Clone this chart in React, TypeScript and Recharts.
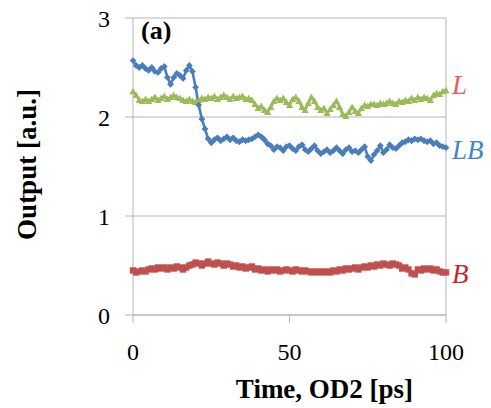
import React from "react";
import {
  LineChart,
  Line,
  XAxis,
  YAxis,
  CartesianGrid,
  ReferenceLine,
  Label,
  LabelList,
} from "recharts";

const times: number[] = Array.from({ length: 101 }, (_, i) => i);

const lbValues: number[] = [
  2.57, 2.52, 2.5, 2.52, 2.49, 2.47, 2.5, 2.46, 2.45, 2.49,
  2.51, 2.4, 2.33, 2.4, 2.44, 2.42, 2.39, 2.47, 2.52, 2.46,
  2.3, 2.12, 1.98, 1.88, 1.78, 1.74, 1.77, 1.79, 1.76, 1.78,
  1.8, 1.77, 1.79, 1.76, 1.75, 1.77, 1.76, 1.77, 1.78, 1.8,
  1.82, 1.8, 1.77, 1.73, 1.71, 1.67, 1.7, 1.69, 1.66, 1.7,
  1.71, 1.68, 1.66, 1.7, 1.72, 1.67, 1.65, 1.68, 1.71, 1.66,
  1.63, 1.65, 1.67, 1.64, 1.66, 1.69, 1.66, 1.63, 1.67, 1.69,
  1.65, 1.66, 1.64, 1.67, 1.7, 1.6, 1.56, 1.62, 1.66, 1.71,
  1.64, 1.67, 1.72, 1.69, 1.68, 1.71, 1.74, 1.75, 1.77, 1.76,
  1.78, 1.77, 1.78, 1.76, 1.75, 1.76, 1.73, 1.74, 1.71, 1.7,
  1.69,
];

const lValues: number[] = [
  2.26, 2.22, 2.17, 2.16, 2.18, 2.16, 2.18, 2.2, 2.17, 2.19,
  2.21, 2.18, 2.2, 2.22, 2.2, 2.19, 2.17, 2.16, 2.18, 2.16,
  2.15, 2.17, 2.19, 2.18, 2.2, 2.19, 2.21, 2.18, 2.2, 2.22,
  2.2, 2.18, 2.21, 2.19, 2.2, 2.21, 2.18, 2.19, 2.17, 2.13,
  2.09, 2.11, 2.07, 2.05, 2.1, 2.16, 2.19, 2.17, 2.19, 2.15,
  2.12, 2.18, 2.2, 2.16, 2.1, 2.07, 2.14, 2.2, 2.16, 2.1,
  2.07, 2.09, 2.04, 2.08, 2.12, 2.16, 2.1, 2.03, 2.01, 2.05,
  2.1, 2.06, 2.04, 2.09, 2.12, 2.11, 2.13, 2.13, 2.12, 2.14,
  2.13, 2.14, 2.16, 2.14, 2.13, 2.16, 2.15, 2.17, 2.16, 2.19,
  2.17, 2.2, 2.18, 2.2, 2.19, 2.17, 2.22, 2.24, 2.23, 2.26,
  2.27,
];

const bValues: number[] = [
  0.45, 0.43, 0.44, 0.45, 0.44, 0.46, 0.47, 0.46, 0.48, 0.47,
  0.48, 0.46, 0.48, 0.47, 0.49, 0.48, 0.46, 0.48, 0.5, 0.51,
  0.53, 0.52, 0.5, 0.52, 0.54, 0.52, 0.51, 0.53, 0.52, 0.5,
  0.52, 0.51, 0.49, 0.5, 0.48, 0.49, 0.47, 0.48, 0.49, 0.46,
  0.47, 0.45, 0.46, 0.44, 0.46, 0.45, 0.46, 0.44, 0.45, 0.46,
  0.45, 0.44, 0.46, 0.45, 0.44, 0.45, 0.44, 0.43, 0.44, 0.43,
  0.44, 0.43, 0.44, 0.43, 0.45, 0.44, 0.46, 0.45, 0.47, 0.46,
  0.47, 0.48, 0.46, 0.48, 0.49, 0.48, 0.5, 0.49, 0.51, 0.5,
  0.52, 0.51, 0.5, 0.52, 0.51, 0.5, 0.47, 0.48, 0.46, 0.42,
  0.41, 0.46, 0.45, 0.47, 0.46, 0.47, 0.45, 0.46, 0.44, 0.43,
  0.43,
];

const xTicks: number[] = [0, 50, 100];
const yTicks: number[] = [0, 1, 2, 3];

const data = times.map((t, i) => ({
  t,
  LB: lbValues[i],
  L: lValues[i],
  B: bValues[i],
}));

const SERIF = "'Liberation Serif', 'Times New Roman', serif";
const GRID = "#b5b5b5";

const BLUE = "#4a7ebb";
const GREEN = "#9bbb59";
const RED = "#c0504d";

const Diamond = (props: any) => {
  const { cx, cy, index } = props;
  if (cx == null || cy == null) return <g key={`d${index}`} />;
  const s = 3.4;
  return (
    <polygon
      key={`d${index}`}
      points={`${cx},${cy - s} ${cx + s},${cy} ${cx},${cy + s} ${cx - s},${cy}`}
      fill={BLUE}
    />
  );
};

const Triangle = (props: any) => {
  const { cx, cy, index } = props;
  if (cx == null || cy == null) return <g key={`t${index}`} />;
  const s = 3.6;
  return (
    <polygon
      key={`t${index}`}
      points={`${cx},${cy - s} ${cx + s},${cy + s * 0.8} ${cx - s},${cy + s * 0.8}`}
      fill={GREEN}
    />
  );
};

const Square = (props: any) => {
  const { cx, cy, index } = props;
  if (cx == null || cy == null) return <g key={`s${index}`} />;
  const s = 3.2;
  return (
    <rect key={`s${index}`} x={cx - s} y={cy - s} width={s * 2} height={s * 2} fill={RED} />
  );
};

const endLabel = (text: string, color: string, dy: number) => (props: any) => {
  const { x, y, index } = props;
  if (index !== data.length - 1) return null;
  return (
    <text
      x={Number(x) + 6}
      y={Number(y) + dy}
      fill={color}
      fontFamily={SERIF}
      fontStyle="italic"
      fontSize={27}
    >
      {text}
    </text>
  );
};

const yLabel = (props: any) => {
  const vb = props.viewBox || {};
  const cx = (vb.x ?? 0) + 27;
  const cy = (vb.y ?? 0) + (vb.height ?? 0) / 2 - 2;
  return (
    <text
      x={cx}
      y={cy}
      transform={`rotate(-90, ${cx}, ${cy})`}
      textAnchor="middle"
      dominantBaseline="central"
      fontFamily={SERIF}
      fontWeight="bold"
      fontSize={27}
      fill="#000"
    >
      Output [a.u.]
    </text>
  );
};

const xLabel = (props: any) => {
  const vb = props.viewBox || {};
  const cx = (vb.x ?? 0) + (vb.width ?? 0) / 2 + 35;
  const by = (vb.y ?? 0) + (vb.height ?? 0) - 10;
  return (
    <text
      x={cx}
      y={by}
      textAnchor="middle"
      fontFamily={SERIF}
      fontWeight="bold"
      fontSize={27}
      fill="#000"
    >
      Time, OD2 [ps]
    </text>
  );
};

export default function App() {
  return (
    <div style={{ position: "absolute", left: 0, top: 0, width: 491, height: 408, background: "#fff" }}>
      <LineChart
        width={491}
        height={408}
        data={data}
        margin={{ top: 18, right: 45, left: 0, bottom: 0 }}
      >
        <CartesianGrid vertical={false} stroke={GRID} strokeWidth={1} />
        <XAxis
          dataKey="t"
          type="number"
          domain={[0, 100]}
          ticks={xTicks}
          height={93}
          tickSize={8}
          tickMargin={20}
          stroke={GRID}
          tick={{ fill: "#000", fontFamily: SERIF, fontSize: 24 }}
          tickLine={{ stroke: GRID }}
          axisLine={{ stroke: GRID }}
        >
          <Label content={xLabel} />
        </XAxis>
        <YAxis
          type="number"
          domain={[0, 3]}
          ticks={yTicks}
          width={133}
          tickSize={8}
          tickMargin={15}
          stroke={GRID}
          tick={{ fill: "#000", fontFamily: SERIF, fontSize: 24 }}
          tickLine={{ stroke: GRID }}
          axisLine={{ stroke: GRID }}
        >
          <Label content={yLabel} />
        </YAxis>
        <ReferenceLine x={100} stroke={GRID} strokeWidth={1} />
        <Line
          dataKey="B"
          stroke={RED}
          strokeWidth={3.5}
          dot={Square}
          activeDot={false}
          isAnimationActive={false}
        >
          <LabelList dataKey="B" content={endLabel("B", "#c0282d", 11)} />
        </Line>
        <Line
          dataKey="L"
          stroke={GREEN}
          strokeWidth={2.8}
          dot={Triangle}
          activeDot={false}
          isAnimationActive={false}
        >
          <LabelList dataKey="L" content={endLabel("L", "#e85a60", 4)} />
        </Line>
        <Line
          dataKey="LB"
          stroke={BLUE}
          strokeWidth={2.6}
          dot={Diamond}
          activeDot={false}
          isAnimationActive={false}
        >
          <LabelList dataKey="LB" content={endLabel("LB", "#3a86c8", 11)} />
        </Line>
      </LineChart>
      <div
        style={{
          position: "absolute",
          left: 141,
          top: 16,
          fontFamily: SERIF,
          fontWeight: "bold",
          fontSize: 26,
          lineHeight: "30px",
          color: "#000",
        }}
      >
        (a)
      </div>
    </div>
  );
}
